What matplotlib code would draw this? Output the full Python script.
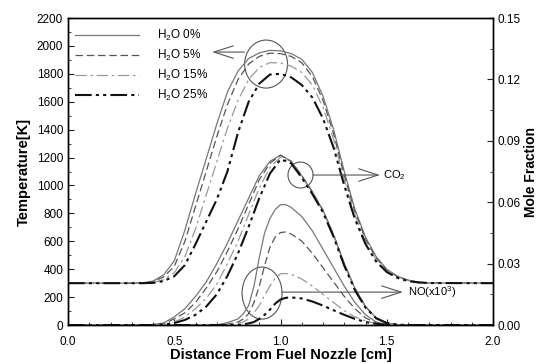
import matplotlib
matplotlib.use('Agg')
import matplotlib.pyplot as plt
from matplotlib.patches import Ellipse

plt.rcParams['font.family'] = ['Liberation Sans', 'DejaVu Sans']
plt.rcParams['mathtext.fontset'] = 'custom'
plt.rcParams['mathtext.rm'] = 'Liberation Sans'

# shared distance grid [cm] for temperature and CO2
x = [0.0, 0.3, 0.35, 0.4, 0.45, 0.5, 0.55, 0.6, 0.65, 0.7, 0.75, 0.8, 0.85, 0.9,
     0.95, 1.0, 1.05, 1.1, 1.15, 1.2, 1.25, 1.3, 1.35, 1.4, 1.45, 1.5, 1.55,
     1.6, 1.65, 1.7, 2.0]
# finer grid for NO
x_no = [0.0, 0.6, 0.7, 0.75, 0.8, 0.825, 0.85, 0.875, 0.9, 0.925, 0.95, 0.975, 1.0,
        1.025, 1.05, 1.1, 1.15, 1.2, 1.25, 1.3, 1.35, 1.4, 1.45, 1.5, 1.55, 2.0]

labels = ['H$_2$O 0%', 'H$_2$O 5%', 'H$_2$O 15%', 'H$_2$O 25%']

# temperature [K]
temp_0 = [300, 300, 302, 315, 360, 460, 680, 940, 1190, 1440, 1670, 1820, 1910, 1950,
          1968, 1965, 1945, 1905, 1810, 1640, 1400, 1100, 830, 630, 490, 400, 350,
          322, 308, 302, 300]
temp_5 = [300, 300, 301, 310, 345, 420, 600, 850, 1100, 1350, 1580, 1760, 1870, 1925,
          1948, 1945, 1925, 1880, 1780, 1610, 1370, 1070, 810, 615, 480, 395, 347,
          320, 307, 302, 300]
temp_15 = [300, 300, 300, 305, 325, 375, 490, 690, 930, 1170, 1410, 1610, 1760, 1845,
           1880, 1878, 1855, 1810, 1720, 1560, 1330, 1040, 790, 600, 470, 390, 343,
           318, 306, 301, 300]
temp_25 = [300, 300, 300, 302, 315, 350, 430, 580, 740, 900, 1100, 1380, 1600, 1730,
           1795, 1800, 1775, 1720, 1630, 1480, 1270, 1000, 760, 580, 455, 380, 338,
           315, 305, 301, 300]

# CO2 mole fraction
co2_0 = [0, 0, 0, 0.0003, 0.001, 0.004, 0.008, 0.014, 0.021, 0.030, 0.040, 0.051, 0.062,
         0.073, 0.080, 0.083, 0.080, 0.073, 0.065, 0.056, 0.044, 0.030, 0.018, 0.009,
         0.0035, 0.001, 0.0002, 0, 0, 0, 0]
co2_5 = [0, 0, 0, 0.0002, 0.0007, 0.003, 0.006, 0.011, 0.018, 0.026, 0.036, 0.047, 0.059,
         0.071, 0.079, 0.083, 0.080, 0.073, 0.065, 0.056, 0.044, 0.030, 0.018, 0.009,
         0.0035, 0.001, 0.0002, 0, 0, 0, 0]
co2_15 = [0, 0, 0, 0.0001, 0.0004, 0.0015, 0.004, 0.008, 0.013, 0.020, 0.030, 0.041, 0.054,
          0.067, 0.077, 0.082, 0.0795, 0.0725, 0.0645, 0.0555, 0.0435, 0.0295, 0.0175,
          0.0088, 0.0034, 0.001, 0.0002, 0, 0, 0, 0]
co2_25 = [0, 0, 0, 0, 0.0002, 0.001, 0.0025, 0.005, 0.009, 0.015, 0.024, 0.035, 0.048,
          0.062, 0.074, 0.081, 0.079, 0.072, 0.064, 0.055, 0.043, 0.029, 0.017,
          0.0085, 0.0033, 0.001, 0.0002, 0, 0, 0, 0]

# NO mole fraction (x10^3)
no_0 = [0, 0, 0, 0.0012, 0.003, 0.0055, 0.0095, 0.019, 0.033, 0.045, 0.052, 0.0565,
        0.0588, 0.0588, 0.0575, 0.053, 0.046, 0.037, 0.028, 0.019, 0.011, 0.005,
        0.0015, 0.0003, 0, 0]
no_5 = [0, 0, 0, 0.0004, 0.0015, 0.003, 0.0055, 0.011, 0.019, 0.029, 0.038, 0.043,
        0.0452, 0.0455, 0.0445, 0.041, 0.035, 0.028, 0.021, 0.014, 0.008, 0.0035,
        0.001, 0.0002, 0, 0]
no_15 = [0, 0, 0, 0, 0.0008, 0.0015, 0.003, 0.006, 0.0095, 0.0145, 0.019, 0.023,
         0.025, 0.0252, 0.0248, 0.0225, 0.019, 0.015, 0.011, 0.007, 0.004, 0.002,
         0.0007, 0.0001, 0, 0]
no_25 = [0, 0, 0, 0, 0, 0.0003, 0.0008, 0.0015, 0.003, 0.005, 0.0075, 0.0105,
         0.0125, 0.0133, 0.0135, 0.013, 0.0115, 0.0095, 0.0072, 0.005, 0.003, 0.0015,
         0.0006, 0.0001, 0, 0]

styles = [dict(color='#777777', ls='-', lw=0.9),
          dict(color='#555555', ls=(0, (6, 3)), lw=0.9),
          dict(color='#999999', ls=(0, (9, 3, 2, 3)), lw=0.9),
          dict(color='#111111', ls=(0, (8, 2, 1.5, 2, 1.5, 2)), lw=1.5)]

fig = plt.figure(figsize=(5.4, 3.64), dpi=100)
ax = fig.add_axes([0.126, 0.107, 0.787, 0.8435])
ax2 = ax.twinx()

temps = [temp_0, temp_5, temp_15, temp_25]
co2s = [co2_0, co2_5, co2_15, co2_25]
nos = [no_0, no_5, no_15, no_25]
for t, c, n, lab, st in zip(temps, co2s, nos, labels, styles):
    ax.plot(x, t, label=lab, **st)
    ax2.plot(x, c, **st)
    ax2.plot(x_no, n, **st)

ax.set_xlim(0, 2)
ax.set_ylim(0, 2200)
ax2.set_ylim(0, 0.15)
ax.set_xticks([0, 0.5, 1.0, 1.5, 2.0])
ax.set_xticks([i / 10 for i in range(21)], minor=True)
ax.set_yticks(range(0, 2201, 200))
ax.set_yticks(range(0, 2201, 100), minor=True)
ax2.set_yticks([0, 0.03, 0.06, 0.09, 0.12, 0.15])
ax2.set_yticks([i * 0.015 for i in range(11)], minor=True)
ax.xaxis.set_major_formatter(matplotlib.ticker.FormatStrFormatter('%.1f'))
ax2.yaxis.set_major_formatter(matplotlib.ticker.FormatStrFormatter('%.2f'))

for a in (ax, ax2):
    a.tick_params(which='both', direction='in', labelsize=8.5, color='#222222')
    a.tick_params(which='major', length=4, width=0.8)
    a.tick_params(which='minor', length=2, width=0.6)
    for sp in a.spines.values():
        sp.set_linewidth(1.0)
ax.tick_params(axis='x', which='both', top=False, pad=8)

ax.set_xlabel('Distance From Fuel Nozzle [cm]', fontsize=10.5, fontweight='bold', labelpad=0)
ax.set_ylabel('Temperature[K]', fontsize=10.5, fontweight='bold', labelpad=4)
ax2.set_ylabel('Mole Fraction', fontsize=10, fontweight='bold', labelpad=2)

leg = ax.legend(loc='upper left', frameon=False, fontsize=8.5, handlelength=5.4,
                handletextpad=1.5, labelspacing=0.42, borderaxespad=0.2,
                bbox_to_anchor=(0.0, 0.99))

# annotation circles and arrows
ring = dict(fill=False, ec='#555555', lw=0.8)
ax.add_patch(Ellipse((0.932, 1870), 0.202, 344, **ring))
ax.add_patch(Ellipse((1.094, 1075), 0.118, 186, **ring))
ax.add_patch(Ellipse((0.913, 229), 0.188, 373, **ring))

arrow = dict(arrowstyle='->, head_length=1.4, head_width=0.45', color='#555555',
             lw=0.8, shrinkA=0, shrinkB=0, mutation_scale=10)
ax.annotate('', xy=(0.678, 1956), xytext=(0.83, 1956), arrowprops=arrow)
ax.annotate('', xy=(1.468, 1075), xytext=(1.153, 1075), arrowprops=arrow)
ax.annotate('', xy=(1.576, 236), xytext=(1.007, 236), arrowprops=arrow)
ax.text(1.482, 1075, 'CO$_2$', fontsize=8, va='center', ha='left')
ax.text(1.6, 236, 'NO(x10$^3$)', fontsize=8, va='center', ha='left')

fig.savefig('out.png', dpi=100)
